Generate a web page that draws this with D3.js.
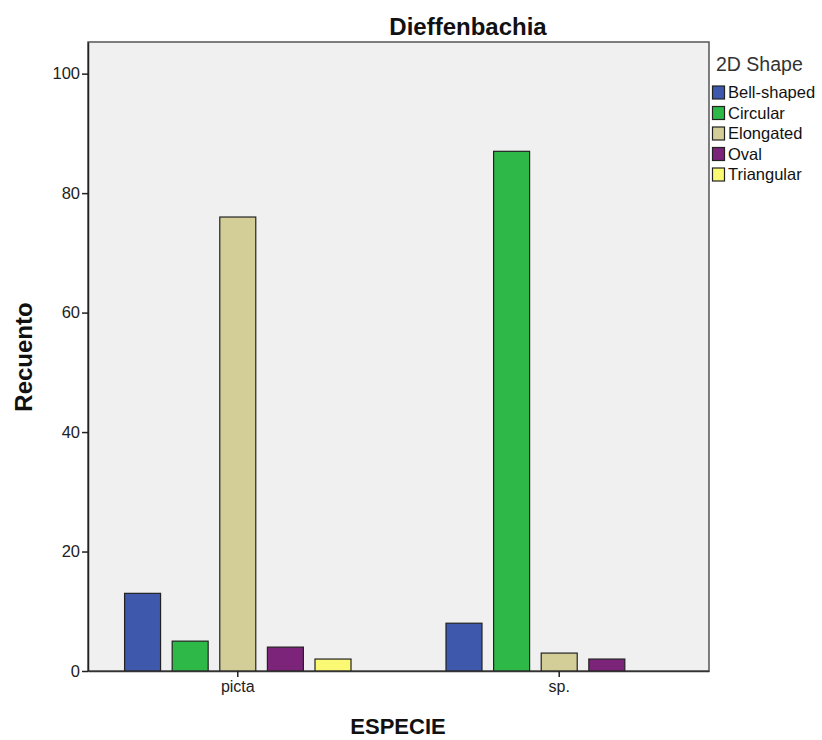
<!DOCTYPE html>
<html>
<head>
<meta charset="utf-8">
<script src="https://cdn.jsdelivr.net/npm/d3@7"></script>
<style>
  body { margin: 0; background: #fff; }
  text { font-family: "Liberation Sans", Arial, sans-serif; }
</style>
</head>
<body>
<svg id="chart" width="822" height="740"></svg>
<script>
// Counts of leaf shape per species
const species = ["picta", "sp."];
const shapes = ["Bell-shaped", "Circular", "Elongated", "Oval", "Triangular"];
const pictaCounts = [13, 5, 76, 4, 2];
const spCounts = [8, 87, 3, 2, 0];
const yTicks = [0, 20, 40, 60, 80, 100];
const shapeColors = ["#3e58ac", "#2eb848", "#d3ce97", "#7b2479", "#fbf873"];

const seriesBySpecies = [pictaCounts, spCounts];

const svg = d3.select("#chart");
const plot = { left: 88, right: 709, top: 42, bottom: 671 };

const x0 = d3.scaleBand().domain(species).range([plot.left, plot.right])
  .paddingInner(0.26).paddingOuter(0.096);
const x1 = d3.scaleBand().domain(shapes).range([0, x0.bandwidth()])
  .paddingInner(0.244).paddingOuter(0.12);
const y = d3.scaleLinear().domain([0, 105.3]).range([plot.bottom, plot.top]);
const color = d3.scaleOrdinal().domain(shapes).range(shapeColors);

// plot background
svg.append("rect")
  .attr("x", plot.left).attr("y", plot.top)
  .attr("width", plot.right - plot.left).attr("height", plot.bottom - plot.top)
  .attr("fill", "#f0f0f0").attr("stroke", "#555").attr("stroke-width", 1.5);

// bars
species.forEach((sp, i) => {
  const g = svg.append("g").attr("transform", `translate(${x0(sp)},0)`);
  shapes.forEach((sh, j) => {
    const v = seriesBySpecies[i][j];
    if (!v) return;
    g.append("rect")
      .attr("x", x1(sh)).attr("y", y(v))
      .attr("width", x1.bandwidth()).attr("height", y(0) - y(v))
      .attr("fill", color(sh)).attr("stroke", "#222").attr("stroke-width", 1.2);
  });
});

// y axis
const yAxis = svg.append("g").attr("transform", `translate(${plot.left},0)`)
  .call(d3.axisLeft(y).tickValues(yTicks).tickSize(6).tickSizeOuter(0).tickPadding(2).tickFormat(d3.format("d")));
yAxis.select(".domain").attr("stroke", "#222").attr("stroke-width", 1.5);
yAxis.selectAll(".tick line").attr("stroke", "#222").attr("stroke-width", 1.5);
yAxis.selectAll(".tick text").attr("font-size", 16.5).attr("fill", "#222")
  .style("font-family", "Liberation Sans, Arial, sans-serif");

// x axis
const xAxis = svg.append("g").attr("transform", `translate(0,${plot.bottom})`)
  .call(d3.axisBottom(x0).tickSize(6).tickSizeOuter(0).tickPadding(4));
xAxis.select(".domain").attr("stroke", "#333").attr("stroke-width", 1.5);
xAxis.selectAll(".tick line").attr("stroke", "#222").attr("stroke-width", 1.5);
xAxis.selectAll(".tick text").attr("font-size", 16).attr("fill", "#222")
  .style("font-family", "Liberation Sans, Arial, sans-serif");

// title and axis titles
svg.append("text").attr("x", 468).attr("y", 35).attr("text-anchor", "middle")
  .attr("font-size", 24).attr("font-weight", "bold").attr("fill", "#111").text("Dieffenbachia");
svg.append("text").attr("x", 398).attr("y", 734).attr("text-anchor", "middle")
  .attr("font-size", 22).attr("font-weight", "bold").attr("fill", "#111").text("ESPECIE");
svg.append("text").attr("transform", "translate(32,357) rotate(-90)").attr("text-anchor", "middle")
  .attr("font-size", 24).attr("font-weight", "bold").attr("fill", "#111").text("Recuento");

// legend
const legend = svg.append("g").attr("transform", "translate(712,0)");
legend.append("text").attr("x", 4).attr("y", 71).attr("font-size", 19.5).attr("fill", "#333").text("2D Shape");
shapes.forEach((sh, j) => {
  const yy = 86 + j * 20.5;
  legend.append("rect").attr("x", 0.5).attr("y", yy).attr("width", 12).attr("height", 13)
    .attr("fill", color(sh)).attr("stroke", "#222").attr("stroke-width", 1.2);
  legend.append("text").attr("x", 16).attr("y", yy + 12).attr("font-size", 16.5).attr("fill", "#111").text(sh);
});
</script>
</body>
</html>
